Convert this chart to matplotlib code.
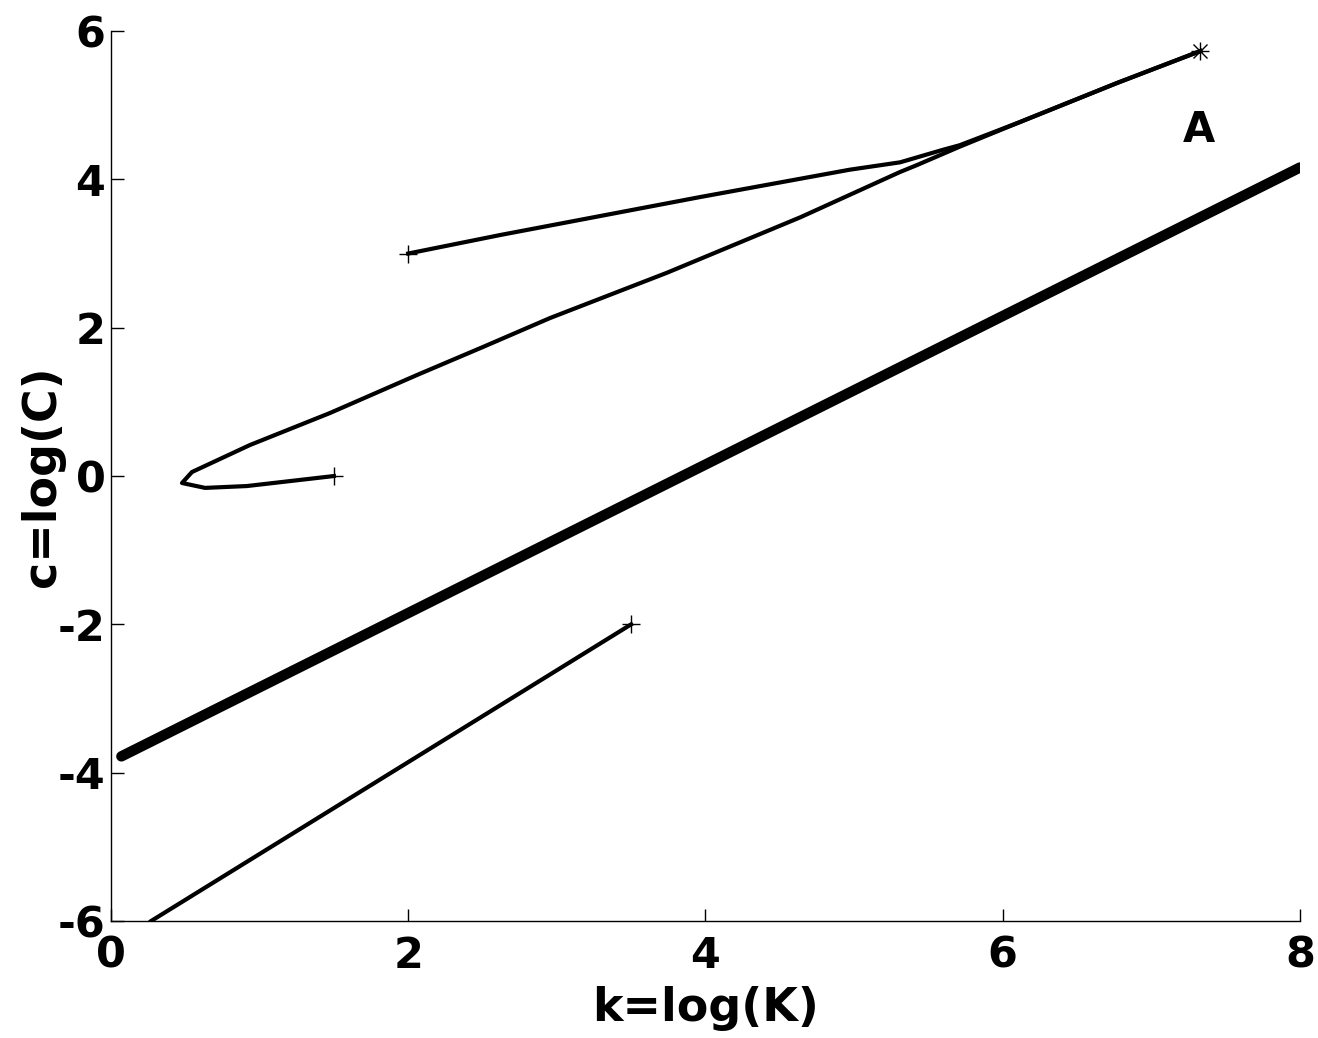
import matplotlib
matplotlib.use("Agg")
import matplotlib.pyplot as plt

plt.rcParams['font.family'] = ['DejaVu Sans']
plt.rcParams['font.weight'] = 'bold'
plt.rcParams['axes.unicode_minus'] = False

# thick line
thick_k = [0.07, 8.0]
thick_c = [-3.78, 4.16]

# lower thin line (ends at + marker)
low_k = [0.27, 3.5]
low_c = [-6.0, -2.0]

# loop curve from (1.5, 0) to the star
curve_k = [1.5, 0.915, 0.633, 0.478, 0.545, 0.935, 1.474, 2.059, 2.503, 2.954,
           3.74, 4.64, 5.31, 5.42, 5.71, 6.10, 6.77, 7.33]
curve_c = [0.0, -0.135, -0.16, -0.094, 0.054, 0.418, 0.85, 1.362, 1.74, 2.13,
           2.74, 3.49, 4.10, 4.19, 4.44, 4.76, 5.30, 5.73]

# upper line from (2, 3) merging into the curve
up_k = [2.0, 2.62, 3.96, 4.97, 5.31, 5.60, 5.71, 6.10, 6.77, 7.33]
up_c = [3.0, 3.25, 3.76, 4.13, 4.23, 4.40, 4.46, 4.76, 5.30, 5.73]

star_k = [7.33]
star_c = [5.73]

xticks = [0, 2, 4, 6, 8]
yticks = [-6, -4, -2, 0, 2, 4, 6]

fig = plt.figure(figsize=(13.18, 10.38), dpi=100)
ax = fig.add_axes([0.0842, 0.1127, 0.9863 - 0.0842, 0.9701 - 0.1127])

ax.plot(thick_k, thick_c, color='black', lw=7.5, solid_capstyle='round')
ax.plot(low_k, low_c, color='black', lw=3)
ax.plot(low_k[-1:], low_c[-1:], marker='+', color='black', ms=13, mew=1)
ax.plot(curve_k, curve_c, color='black', lw=3)
ax.plot(curve_k[:1], curve_c[:1], marker='+', color='black', ms=13, mew=1)
ax.plot(up_k, up_c, color='black', lw=3)
ax.plot(up_k[:1], up_c[:1], marker='+', color='black', ms=13, mew=1)
ax.plot(star_k, star_c, marker='+', color='black', ms=13, mew=1)
ax.plot(star_k, star_c, marker='x', color='black', ms=10, mew=1)

ax.text(7.32, 4.67, 'A', fontsize=30, fontweight='bold', ha='center', va='center')

ax.set_xlim(0, 8)
ax.set_ylim(-6, 6)
ax.set_xticks(xticks)
ax.set_yticks(yticks)
ax.tick_params(direction='in', length=9, width=1, labelsize=31)
ax.tick_params(axis='x', pad=10)
ax.tick_params(axis='y', pad=4)
for lab in ax.get_xticklabels() + ax.get_yticklabels():
    lab.set_fontweight('bold')
ax.spines['top'].set_visible(False)
ax.spines['right'].set_visible(False)
ax.spines['left'].set_linewidth(1)
ax.spines['bottom'].set_linewidth(1)

ax.set_xlabel('k=log(K)', fontsize=33, fontweight='bold')
ax.set_ylabel('c=log(C)', fontsize=33, fontweight='bold')
ax.xaxis.set_label_coords(0.5, -0.098)
ax.yaxis.set_label_coords(-0.058, 0.5)
ax.xaxis.label.set_va('center')
ax.yaxis.label.set_va('center')

fig.savefig('out.png', dpi=100)
